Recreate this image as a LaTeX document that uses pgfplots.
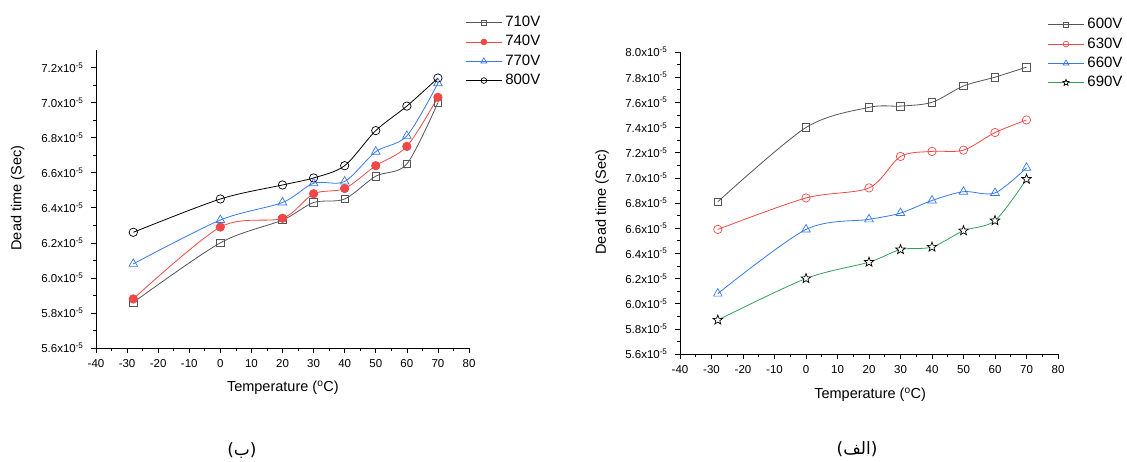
\documentclass[border=0pt]{standalone}
\usepackage{pgfplots}
\pgfplotsset{compat=1.18}
\usepackage{fontspec}
\setmainfont{Liberation Sans}
\newfontfamily\arabicfont[Script=Arabic]{DejaVu Sans}
\TeXXeTstate=1
\usetikzlibrary{plotmarks}
\definecolor{cgray}{RGB}{85,85,85}
\definecolor{cred}{RGB}{240,72,72}
\definecolor{cblue}{RGB}{55,120,235}
\definecolor{cgreen}{RGB}{50,160,90}
\pgfdeclareplotmark{ostar}{%
  \pgfpathmoveto{\pgfpointpolar{90}{\pgfplotmarksize}}%
  \pgfpathlineto{\pgfpointpolar{126}{0.42\pgfplotmarksize}}%
  \pgfpathlineto{\pgfpointpolar{162}{\pgfplotmarksize}}%
  \pgfpathlineto{\pgfpointpolar{198}{0.42\pgfplotmarksize}}%
  \pgfpathlineto{\pgfpointpolar{234}{\pgfplotmarksize}}%
  \pgfpathlineto{\pgfpointpolar{270}{0.42\pgfplotmarksize}}%
  \pgfpathlineto{\pgfpointpolar{306}{\pgfplotmarksize}}%
  \pgfpathlineto{\pgfpointpolar{342}{0.42\pgfplotmarksize}}%
  \pgfpathlineto{\pgfpointpolar{18}{\pgfplotmarksize}}%
  \pgfpathlineto{\pgfpointpolar{54}{0.42\pgfplotmarksize}}%
  \pgfpathclose
  \pgfusepathqfillstroke}
\pgfplotsset{
 mystyle/.style={
  scale only axis, anchor=south west,
  axis x line*=bottom, axis y line*=left,
  tick align=outside,
  xmin=-40, xmax=80, xtick={-40,-30,-20,-10,0,10,20,30,40,50,60,70,80}, minor x tick num=1,
  minor y tick num=1,
  major tick length=5pt, minor tick length=3pt,
  every tick/.style={black, line width=0.6pt},
  axis line style={line width=0.8pt},
  ticklabel style={font=\fontsize{11.5}{13}\selectfont},
  yticklabel style={xshift=-4pt},
  xticklabel style={yshift=-3pt},
  /pgf/number format/assume math mode=true,
  xticklabel={\pgfmathprintnumber{\tick}},
  yticklabel={\pgfmathprintnumber[fixed,fixed zerofill,precision=1]{\tick}x10\textsuperscript{-5}},
  label style={font=\fontsize{14.5}{16}\selectfont},
  xlabel={Temperature (\textsuperscript{o}C)},
  ylabel={Dead time (Sec)},
  legend cell align=left,
  legend style={draw=none, fill=none, font=\fontsize{15}{17}\selectfont, anchor=north west, inner sep=0pt, row sep=5.3pt,
    nodes={inner xsep=3pt, inner ysep=0pt, text height=11pt, text depth=3pt}},
  legend image code/.code={\draw[mark repeat=2,mark phase=2,##1,every mark/.append style={scale=0.68}] plot coordinates {(0pt,0pt) (18pt,0pt) (36pt,0pt)};},
  every axis plot/.append style={line width=0.8pt, smooth, tension=0.5},
 }
}
\begin{document}
\begin{tikzpicture}
\begin{axis}[mystyle, at={(96pt,113pt)}, width=373pt, height=298pt,
  ymin=5.6, ymax=7.3, ytick={5.6,5.8,6.0,6.2,6.4,6.6,6.8,7.0,7.2},
  xlabel style={at={(rel axis cs:0.501,-0.134)}, anchor=center},
  ylabel style={at={(rel axis cs:-0.210,0.503)}, anchor=center, rotate=0},
  legend style={at={(rel axis cs:0.99,1.116)}}]
\addplot[cgray, mark=square, mark size=3.8pt, mark options={solid, fill=white, line width=0.7pt}] coordinates {(-28,5.86)(0,6.20)(20,6.33)(30,6.43)(40,6.45)(50,6.58)(60,6.65)(70,7.00)};
\addlegendentry{710V}
\addplot[cred, mark=*, mark size=4.2pt, mark options={solid, fill=cred}] coordinates {(-28,5.88)(0,6.29)(20,6.34)(30,6.48)(40,6.51)(50,6.64)(60,6.75)(70,7.03)};
\addlegendentry{740V}
\addplot[cblue, mark=triangle, mark size=5pt, mark options={solid, fill=white, line width=0.7pt}] coordinates {(-28,6.08)(0,6.33)(20,6.43)(30,6.54)(40,6.55)(50,6.72)(60,6.81)(70,7.11)};
\addlegendentry{770V}
\addplot[black, mark=o, mark size=4.2pt, mark options={solid, fill=white, line width=0.7pt}] coordinates {(-28,6.26)(0,6.45)(20,6.53)(30,6.57)(40,6.64)(50,6.84)(60,6.98)(70,7.14)};
\addlegendentry{800V}
\end{axis}
\begin{axis}[mystyle, at={(680pt,107pt)}, width=378pt, height=302pt,
  ymin=5.6, ymax=8.0, ytick={5.6,5.8,6.0,6.2,6.4,6.6,6.8,7.0,7.2,7.4,7.6,7.8,8.0},
  xlabel style={at={(rel axis cs:0.503,-0.136)}, anchor=center},
  ylabel style={at={(rel axis cs:-0.206,0.503)}, anchor=center, rotate=0},
  legend style={at={(rel axis cs:0.972,1.114)}}]
\addplot[cgray, mark=square, mark size=3.8pt, mark options={solid, fill=white, line width=0.7pt}] coordinates {(-28,6.81)(0,7.40)(20,7.56)(30,7.57)(40,7.60)(50,7.73)(60,7.80)(70,7.88)};
\addlegendentry{600V}
\addplot[cred, mark=o, mark size=4.2pt, mark options={solid, fill=white, line width=0.7pt}] coordinates {(-28,6.59)(0,6.84)(20,6.92)(30,7.17)(40,7.21)(50,7.22)(60,7.36)(70,7.46)};
\addlegendentry{630V}
\addplot[cblue, mark=triangle, mark size=5pt, mark options={solid, fill=white, line width=0.7pt}] coordinates {(-28,6.08)(0,6.59)(20,6.67)(30,6.72)(40,6.82)(50,6.89)(60,6.88)(70,7.08)};
\addlegendentry{660V}
\addplot[cgreen, mark=ostar, mark size=5pt, mark options={solid, draw=black, fill=white, line width=0.7pt}] coordinates {(-28,5.87)(0,6.20)(20,6.33)(30,6.43)(40,6.45)(50,6.58)(60,6.66)(70,6.99)};
\addlegendentry{690V}
\end{axis}
\node at (242pt,10pt) {\arabicfont\fontsize{17}{20}\selectfont\beginR(ب)\endR};
\node at (857pt,12pt) {\arabicfont\fontsize{17}{20}\selectfont\beginR(الف)\endR};
\pgfresetboundingbox
\path (0,0) rectangle (1127pt,461pt);
\end{tikzpicture}
\end{document}
